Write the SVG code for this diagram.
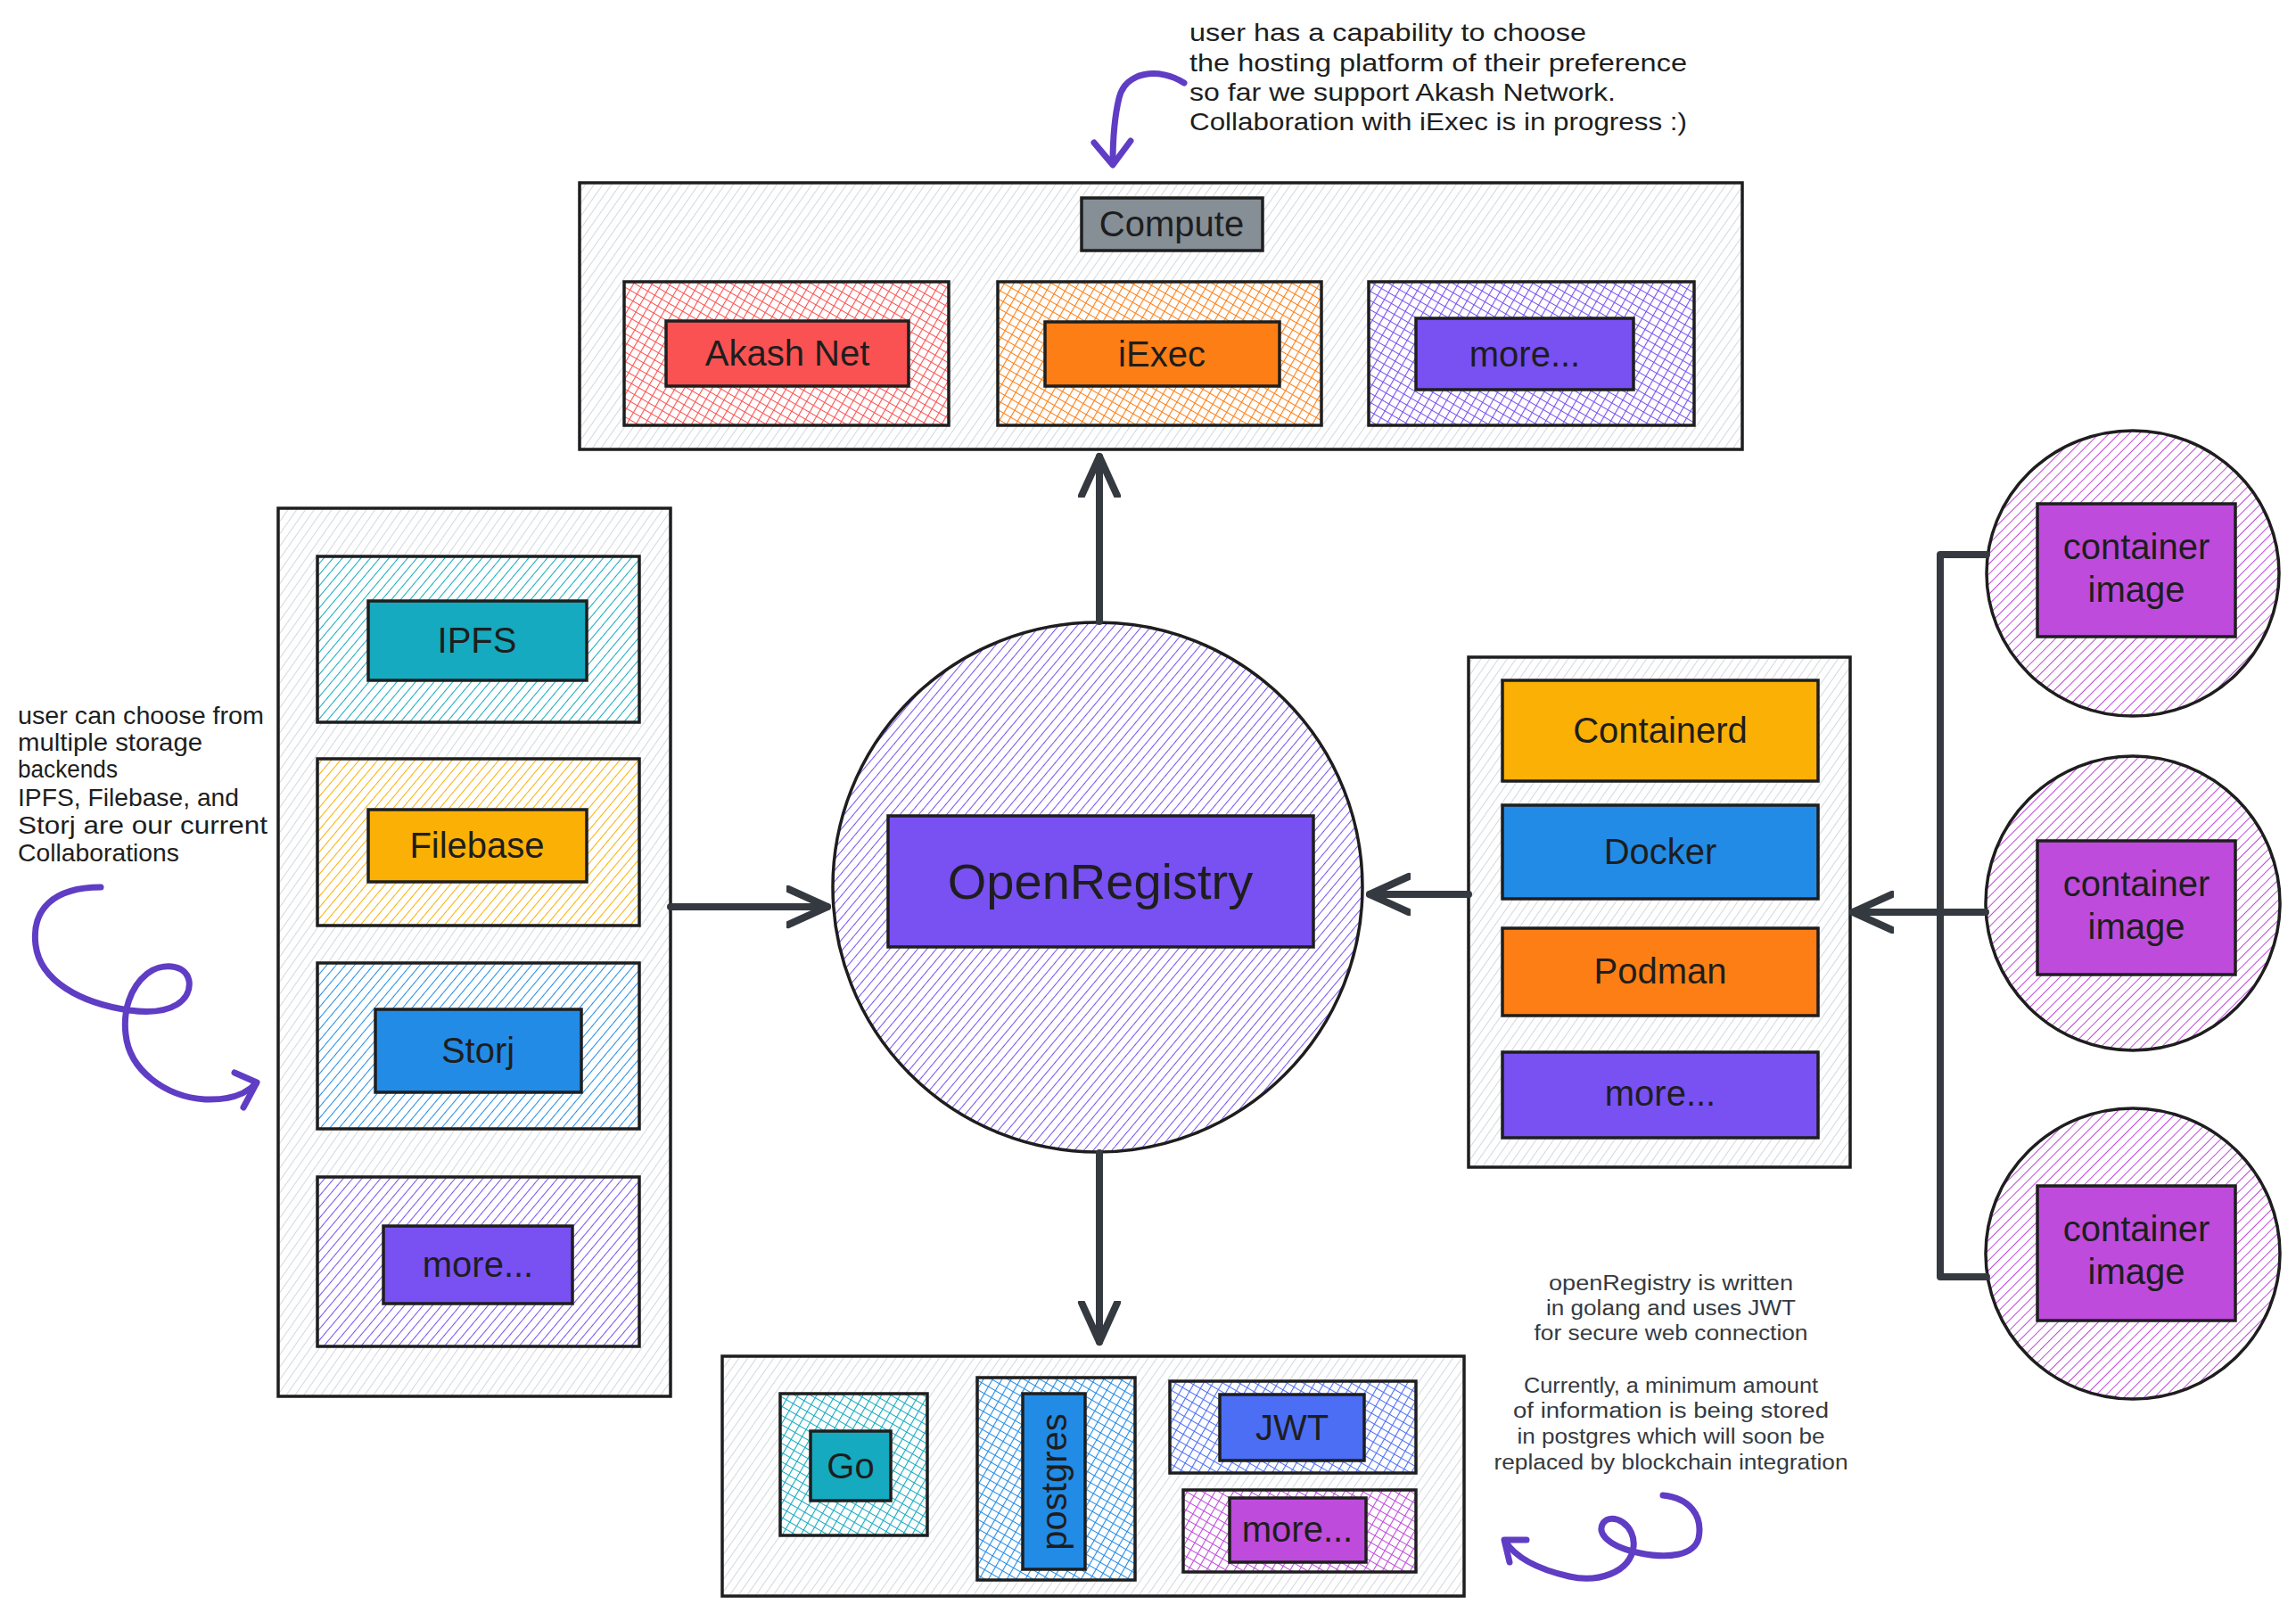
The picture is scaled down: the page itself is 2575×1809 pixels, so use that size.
<svg xmlns="http://www.w3.org/2000/svg" width="2575" height="1809" viewBox="0 0 2575 1809">
<defs>
<style>
text{font-family:"Liberation Sans",Arial,sans-serif;fill:#1e1e1e}
.lbl{font-size:40px;text-anchor:middle}
.ann{font-size:28px}
.ann2{font-size:23px;text-anchor:middle;fill:#343a40}
.box{stroke:#1e1e1e;stroke-width:3.5}
.cont{fill:url(#hg);stroke:#1e1e1e;stroke-width:3.5}
.conn{fill:none;stroke:#343a40;stroke-width:8;stroke-linecap:round;stroke-linejoin:round}
.curl{fill:none;stroke:#5f3dc4;stroke-width:7;stroke-linecap:round;stroke-linejoin:round}
</style>
<pattern id="hg" width="8" height="8" patternUnits="userSpaceOnUse" patternTransform="rotate(35)"><rect width="8" height="8" fill="#fff"/><line x1="0" y1="0" x2="0" y2="8" stroke="#ced4da" stroke-width="1.8"/></pattern>
<pattern id="hs-teal" width="8" height="8" patternUnits="userSpaceOnUse" patternTransform="rotate(40)"><rect width="8" height="8" fill="#fff"/><line x1="0" y1="0" x2="0" y2="8" stroke="#15aabf" stroke-width="2"/></pattern>
<pattern id="hs-yellow" width="8" height="8" patternUnits="userSpaceOnUse" patternTransform="rotate(40)"><rect width="8" height="8" fill="#fff"/><line x1="0" y1="0" x2="0" y2="8" stroke="#fab005" stroke-width="2"/></pattern>
<pattern id="hs-blue" width="8" height="8" patternUnits="userSpaceOnUse" patternTransform="rotate(40)"><rect width="8" height="8" fill="#fff"/><line x1="0" y1="0" x2="0" y2="8" stroke="#228be6" stroke-width="2"/></pattern>
<pattern id="hs-violet" width="8" height="8" patternUnits="userSpaceOnUse" patternTransform="rotate(40)"><rect width="8" height="8" fill="#fff"/><line x1="0" y1="0" x2="0" y2="8" stroke="#7950f2" stroke-width="2"/></pattern>
<pattern id="hs-grape" width="8" height="8" patternUnits="userSpaceOnUse" patternTransform="rotate(45)"><rect width="8" height="8" fill="#fff"/><line x1="0" y1="0" x2="0" y2="8" stroke="#be4bdb" stroke-width="2"/></pattern>
<pattern id="hs-circ" width="8" height="8" patternUnits="userSpaceOnUse" patternTransform="rotate(40)"><rect width="8" height="8" fill="#fff"/><line x1="0" y1="0" x2="0" y2="8" stroke="#7950f2" stroke-width="2"/></pattern>
<pattern id="hx-red" width="9" height="9" patternUnits="userSpaceOnUse" patternTransform="rotate(30)"><rect width="9" height="9" fill="#fff"/><path d="M0,0V9M0,0H9" stroke="#fa5252" stroke-width="2.2"/></pattern>
<pattern id="hx-orange" width="9" height="9" patternUnits="userSpaceOnUse" patternTransform="rotate(30)"><rect width="9" height="9" fill="#fff"/><path d="M0,0V9M0,0H9" stroke="#fd7e14" stroke-width="2.2"/></pattern>
<pattern id="hx-violet" width="9" height="9" patternUnits="userSpaceOnUse" patternTransform="rotate(30)"><rect width="9" height="9" fill="#fff"/><path d="M0,0V9M0,0H9" stroke="#7950f2" stroke-width="2.2"/></pattern>
<pattern id="hx-teal" width="9" height="9" patternUnits="userSpaceOnUse" patternTransform="rotate(30)"><rect width="9" height="9" fill="#fff"/><path d="M0,0V9M0,0H9" stroke="#15aabf" stroke-width="2.2"/></pattern>
<pattern id="hx-blue" width="9" height="9" patternUnits="userSpaceOnUse" patternTransform="rotate(30)"><rect width="9" height="9" fill="#fff"/><path d="M0,0V9M0,0H9" stroke="#228be6" stroke-width="2.2"/></pattern>
<pattern id="hx-indigo" width="9" height="9" patternUnits="userSpaceOnUse" patternTransform="rotate(30)"><rect width="9" height="9" fill="#fff"/><path d="M0,0V9M0,0H9" stroke="#4c6ef5" stroke-width="2.2"/></pattern>
<pattern id="hx-grape" width="9" height="9" patternUnits="userSpaceOnUse" patternTransform="rotate(30)"><rect width="9" height="9" fill="#fff"/><path d="M0,0V9M0,0H9" stroke="#be4bdb" stroke-width="2.2"/></pattern>
<marker id="arr" markerUnits="userSpaceOnUse" markerWidth="60" markerHeight="60" refX="46" refY="24" orient="auto" viewBox="0 0 60 60"><path d="M2,4 L46,24 L2,44" fill="none" stroke="#343a40" stroke-width="8" stroke-linecap="round" stroke-linejoin="round"/></marker>
</defs>
<rect width="2575" height="1809" fill="#fff"/>

<!-- Compute group -->
<g id="compute">
<rect class="cont" x="650" y="205" width="1304" height="299"/>
<rect class="box" x="1213" y="222" width="203" height="59" fill="#868e96"/>
<text class="lbl" x="1314" y="265">Compute</text>
</g>
<g id="akash">
<rect class="box" x="700" y="316" width="364" height="161" fill="url(#hx-red)"/>
<rect class="box" x="747" y="360" width="272" height="73" fill="#fa5252"/>
<text class="lbl" x="883" y="410">Akash Net</text>
</g>
<g id="iexec">
<rect class="box" x="1119" y="316" width="363" height="161" fill="url(#hx-orange)"/>
<rect class="box" x="1172" y="361" width="263" height="72" fill="#fd7e14"/>
<text class="lbl" x="1303" y="411">iExec</text>
</g>
<g id="compute-more">
<rect class="box" x="1535" y="316" width="365" height="161" fill="url(#hx-violet)"/>
<rect class="box" x="1588" y="357" width="244" height="80" fill="#7950f2"/>
<text class="lbl" x="1710" y="411">more...</text>
</g>

<!-- Storage -->
<g id="storage">
<rect class="cont" x="312" y="570" width="440" height="996"/>
</g>
<g id="ipfs">
<rect class="box" x="356" y="624" width="361" height="186" fill="url(#hs-teal)"/>
<rect class="box" x="413" y="674" width="245" height="89" fill="#15aabf"/>
<text class="lbl" x="535" y="732">IPFS</text>
</g>
<g id="filebase">
<rect class="box" x="356" y="851" width="361" height="187" fill="url(#hs-yellow)"/>
<rect class="box" x="413" y="908" width="245" height="81" fill="#fab005"/>
<text class="lbl" x="535" y="962">Filebase</text>
</g>
<g id="storj">
<rect class="box" x="356" y="1080" width="361" height="186" fill="url(#hs-blue)"/>
<rect class="box" x="421" y="1132" width="231" height="93" fill="#228be6"/>
<text class="lbl" x="536" y="1192">Storj</text>
</g>
<g id="storage-more">
<rect class="box" x="356" y="1320" width="361" height="190" fill="url(#hs-violet)"/>
<rect class="box" x="430" y="1375" width="212" height="87" fill="#7950f2"/>
<text class="lbl" x="536" y="1432">more...</text>
</g>

<!-- Central -->
<g id="openregistry">
<circle cx="1231" cy="995" r="297" fill="url(#hs-circ)" stroke="#1e1e1e" stroke-width="3.5"/>
<rect class="box" x="996" y="915" width="477" height="147" fill="#7950f2"/>
<text x="1234" y="1008" font-size="56" text-anchor="middle">OpenRegistry</text>
</g>

<!-- Runtimes -->
<g id="runtimes">
<rect class="cont" x="1647" y="737" width="428" height="572"/>
</g>
<g id="containerd">
<rect class="box" x="1685" y="763" width="354" height="113" fill="#fab005"/>
<text class="lbl" x="1862" y="833">Containerd</text>
</g>
<g id="docker">
<rect class="box" x="1685" y="903" width="354" height="105" fill="#228be6"/>
<text class="lbl" x="1862" y="969">Docker</text>
</g>
<g id="podman">
<rect class="box" x="1685" y="1041" width="354" height="98" fill="#fd7e14"/>
<text class="lbl" x="1862" y="1103">Podman</text>
</g>
<g id="runtime-more">
<rect class="box" x="1685" y="1180" width="354" height="96" fill="#7950f2"/>
<text class="lbl" x="1862" y="1240">more...</text>
</g>

<!-- Container images -->
<g id="image1">
<ellipse cx="2392" cy="643" rx="164" ry="160" fill="url(#hs-grape)" stroke="#1e1e1e" stroke-width="3.5"/>
<rect class="box" x="2285" y="565" width="222" height="149" fill="#be4bdb"/>
<text class="lbl" x="2396" y="627" font-size="38">container</text>
<text class="lbl" x="2396" y="675" font-size="38">image</text>
</g>
<g id="image2">
<ellipse cx="2392" cy="1013" rx="165" ry="165" fill="url(#hs-grape)" stroke="#1e1e1e" stroke-width="3.5"/>
<rect class="box" x="2285" y="943" width="222" height="150" fill="#be4bdb"/>
<text class="lbl" x="2396" y="1005" font-size="38">container</text>
<text class="lbl" x="2396" y="1053" font-size="38">image</text>
</g>
<g id="image3">
<ellipse cx="2392" cy="1406" rx="165" ry="163" fill="url(#hs-grape)" stroke="#1e1e1e" stroke-width="3.5"/>
<rect class="box" x="2285" y="1330" width="222" height="151" fill="#be4bdb"/>
<text class="lbl" x="2396" y="1392" font-size="38">container</text>
<text class="lbl" x="2396" y="1440" font-size="38">image</text>
</g>

<!-- Backend stack -->
<g id="stack">
<rect class="cont" x="810" y="1521" width="832" height="269"/>
</g>
<g id="go">
<rect class="box" x="875" y="1563" width="165" height="159" fill="url(#hx-teal)"/>
<rect class="box" x="909" y="1605" width="90" height="78" fill="#15aabf"/>
<text class="lbl" x="954" y="1658">Go</text>
</g>
<g id="postgres">
<rect class="box" x="1096" y="1545" width="177" height="227" fill="url(#hx-blue)"/>
<rect class="box" x="1147" y="1563" width="70" height="197" fill="#228be6"/>
<text class="lbl" transform="translate(1196,1662) rotate(-90)" x="0" y="0">postgres</text>
</g>
<g id="jwt">
<rect class="box" x="1312" y="1549" width="276" height="103" fill="url(#hx-indigo)"/>
<rect class="box" x="1368" y="1564" width="162" height="74" fill="#4c6ef5"/>
<text class="lbl" x="1449" y="1615">JWT</text>
</g>
<g id="stack-more">
<rect class="box" x="1327" y="1671" width="261" height="92" fill="url(#hx-grape)"/>
<rect class="box" x="1379" y="1680" width="153" height="72" fill="#be4bdb"/>
<text class="lbl" x="1455" y="1729">more...</text>
</g>

<!-- Connectors -->
<g id="connectors">
<path class="conn" d="M1233,697 L1233,512" marker-end="url(#arr)"/>
<path class="conn" d="M752,1017 L928,1017" marker-end="url(#arr)"/>
<path class="conn" d="M1647,1003 L1536,1003" marker-end="url(#arr)"/>
<path class="conn" d="M1233,1293 L1233,1505" marker-end="url(#arr)"/>
<path class="conn" d="M2228,622 L2176,622 L2176,1432 L2228,1432"/>
<path class="conn" d="M2227,1023 L2078,1023" marker-end="url(#arr)"/>
</g>

<!-- Annotations -->
<g id="note-compute">
<text class="ann" x="1334" y="46" textLength="445" lengthAdjust="spacingAndGlyphs">user has a capability to choose</text>
<text class="ann" x="1334" y="80" textLength="558" lengthAdjust="spacingAndGlyphs">the hosting platform of their preference</text>
<text class="ann" x="1334" y="113" textLength="478" lengthAdjust="spacingAndGlyphs">so far we support Akash Network.</text>
<text class="ann" x="1334" y="146" textLength="558" lengthAdjust="spacingAndGlyphs">Collaboration with iExec is in progress :)</text>
<path class="curl" d="M1328,93 C1300,75 1262,80 1255,110 C1249,135 1248,160 1248,183"/>
<path class="curl" d="M1227,160 L1248,185 L1268,158"/>
</g>
<g id="note-storage">
<text class="ann" x="20" y="812" textLength="276" lengthAdjust="spacingAndGlyphs">user can choose from</text>
<text class="ann" x="20" y="842" textLength="207" lengthAdjust="spacingAndGlyphs">multiple storage</text>
<text class="ann" x="20" y="872" textLength="112" lengthAdjust="spacingAndGlyphs">backends</text>
<text class="ann" x="20" y="904" textLength="248" lengthAdjust="spacingAndGlyphs">IPFS, Filebase, and</text>
<text class="ann" x="20" y="935" textLength="280" lengthAdjust="spacingAndGlyphs">Storj are our current</text>
<text class="ann" x="20" y="966" textLength="181" lengthAdjust="spacingAndGlyphs">Collaborations</text>
<path class="curl" d="M113,995 C60,995 35,1020 40,1060 C45,1100 90,1125 145,1133 C195,1140 215,1120 212,1100 C208,1080 180,1080 165,1092 C145,1108 138,1135 141,1160 C145,1200 185,1230 230,1233 C255,1234 275,1228 287,1215"/>
<path class="curl" d="M263,1203 L288,1214 L273,1242"/>
</g>
<g id="note-stack">
<text class="ann2" x="1874" y="1447" textLength="274" lengthAdjust="spacingAndGlyphs">openRegistry is written</text>
<text class="ann2" x="1874" y="1475" textLength="280" lengthAdjust="spacingAndGlyphs">in golang and uses JWT</text>
<text class="ann2" x="1874" y="1503" textLength="307" lengthAdjust="spacingAndGlyphs">for secure web connection</text>
<text class="ann2" x="1874" y="1562" textLength="330" lengthAdjust="spacingAndGlyphs">Currently, a minimum amount</text>
<text class="ann2" x="1874" y="1590" textLength="354" lengthAdjust="spacingAndGlyphs">of information is being stored</text>
<text class="ann2" x="1874" y="1619" textLength="345" lengthAdjust="spacingAndGlyphs">in postgres which will soon be</text>
<text class="ann2" x="1874" y="1648" textLength="397" lengthAdjust="spacingAndGlyphs">replaced by blockchain integration</text>
<path class="curl" d="M1865,1677 C1895,1680 1910,1700 1905,1725 C1900,1745 1870,1748 1840,1742 C1805,1735 1790,1720 1798,1708 C1808,1695 1835,1710 1832,1735 C1828,1765 1790,1775 1760,1768 C1725,1760 1700,1748 1688,1728"/>
<path class="curl" d="M1712,1727 L1687,1727 L1693,1752"/>
</g>
</svg>
